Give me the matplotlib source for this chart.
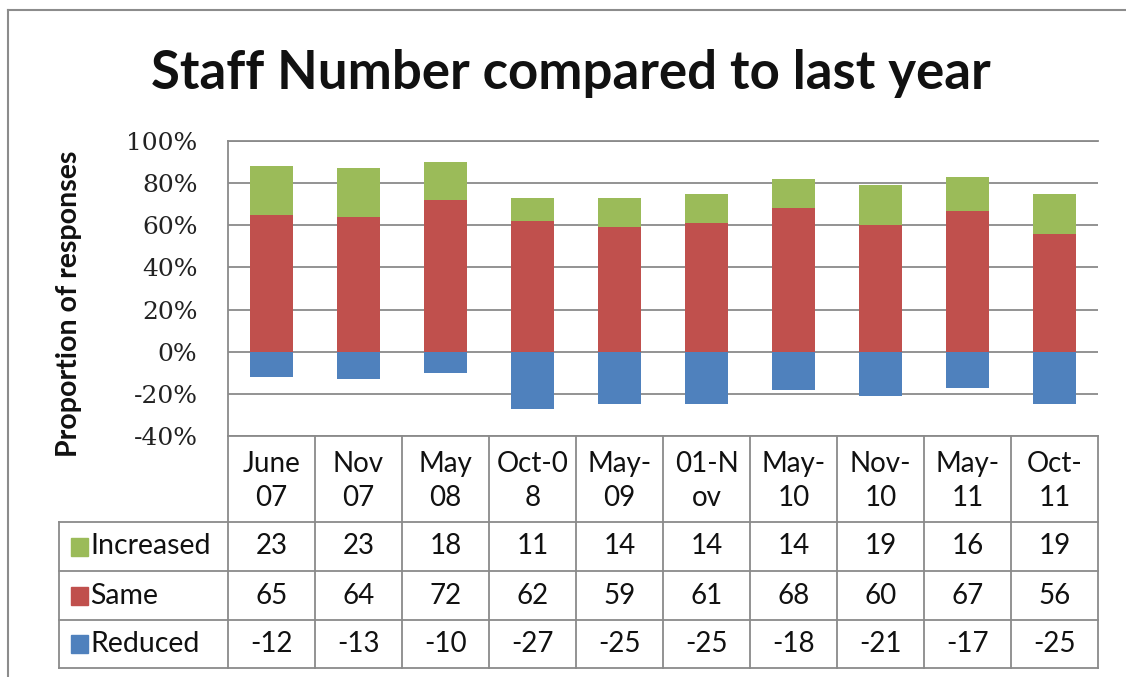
import numpy as np
import matplotlib.pyplot as plt
from matplotlib.patches import Rectangle

periods = ["June\n07", "Nov\n07", "May\n08", "Oct-0\n8", "May-\n09",
           "01-N\nov", "May-\n10", "Nov-\n10", "May-\n11", "Oct-\n11"]
increased = [23, 23, 18, 11, 14, 14, 14, 19, 16, 19]
same = [65, 64, 72, 62, 59, 61, 68, 60, 67, 56]
reduced = [-12, -13, -10, -27, -25, -25, -18, -21, -17, -25]
series_names = ["Increased", "Same", "Reduced"]
colors = ["#9BBB59", "#C0504D", "#4F81BD"]
yticks = [-40, -20, 0, 20, 40, 60, 80, 100]

W, H = 1126, 677
grid_col = "#8a8a8a"
sans = ["Lato", "DejaVu Sans"]
serif = ["DejaVu Serif"]

fig = plt.figure(figsize=(W / 100, H / 100), dpi=100)

# outer chart border (only top and left show inside the image)
fig.add_artist(plt.Line2D([8 / W, 8 / W], [0, 1 - 10 / H], color="#8c8c8c", lw=1.5,
                          transform=fig.transFigure))
fig.add_artist(plt.Line2D([8 / W, 1], [1 - 10 / H, 1 - 10 / H], color="#8c8c8c", lw=1.5,
                          transform=fig.transFigure))

# plot area in pixels
L, R, T, B = 228, 1098, 141, 436
ax = fig.add_axes([L / W, 1 - B / H, (R - L) / W, (B - T) / H])
x = np.arange(len(periods))
ax.bar(x, same, width=0.5, color=colors[1], zorder=3)
ax.bar(x, increased, width=0.5, bottom=same, color=colors[0], zorder=3)
ax.bar(x, reduced, width=0.5, color=colors[2], zorder=3)
ax.set_xlim(-0.5, len(periods) - 0.5)
ax.set_ylim(-40, 100)
ax.set_yticks(yticks)
ax.set_yticklabels([f"{v}%" for v in yticks], family=serif, fontsize=18, color="#222222")
ax.tick_params(axis="y", length=0, pad=22)
ax.set_xticks([])
ax.yaxis.grid(True, color=grid_col, lw=1.3, zorder=0)
for s in ["top", "right", "bottom"]:
    ax.spines[s].set_visible(False)
ax.spines["left"].set_color(grid_col)
ax.spines["left"].set_linewidth(1.3)
ax.axhline(100, color=grid_col, lw=1.3, zorder=1, clip_on=False)

fig.text(69 / W, 1 - 304 / H, "Proportion of responses", rotation=90, ha="center",
         va="center", fontsize=20.5, fontweight="bold", family=sans, color="#111111")
fig.text(571 / W, 1 - 73 / H, "Staff Number compared to last year", ha="center",
         va="center", fontsize=38, fontweight="bold", family=sans, color="#111111")

# data table below the plot, in pixel coordinates
TL, TB = 59, 668
tax = fig.add_axes([0, 0, 1, 1], facecolor="none")
tax.set_xlim(0, W)
tax.set_ylim(H, 0)
tax.axis("off")
colw = (R - L) / len(periods)
rows_y = [436, 522, 571, 620, 668]
lkw = dict(color=grid_col, lw=1.3)
tax.plot([L, R], [rows_y[0], rows_y[0]], **lkw)
for yy in rows_y[1:]:
    tax.plot([TL, R], [yy, yy], **lkw)
tax.plot([TL, TL], [rows_y[1], TB], **lkw)
for i in range(len(periods) + 1):
    tax.plot([L + i * colw, L + i * colw], [rows_y[0], TB], **lkw)

for i, p in enumerate(periods):
    tax.text(L + (i + 0.5) * colw, (rows_y[0] + rows_y[1]) / 2 + 2, p, ha="center",
             va="center", fontsize=20, family=sans, color="#111111", linespacing=1.35)

for r, (name, vals) in enumerate(zip(series_names, [increased, same, reduced])):
    yc = (rows_y[r + 1] + rows_y[r + 2]) / 2
    tax.add_patch(Rectangle((71, yc - 9), 17, 18, color=colors[r]))
    tax.text(90, yc, name, ha="left", va="center", fontsize=20.5, family=sans,
             color="#111111")
    for i, v in enumerate(vals):
        tax.text(L + (i + 0.5) * colw, yc, str(v), ha="center", va="center",
                 fontsize=20, family=sans, color="#111111")

fig.savefig("out.png", dpi=100)
